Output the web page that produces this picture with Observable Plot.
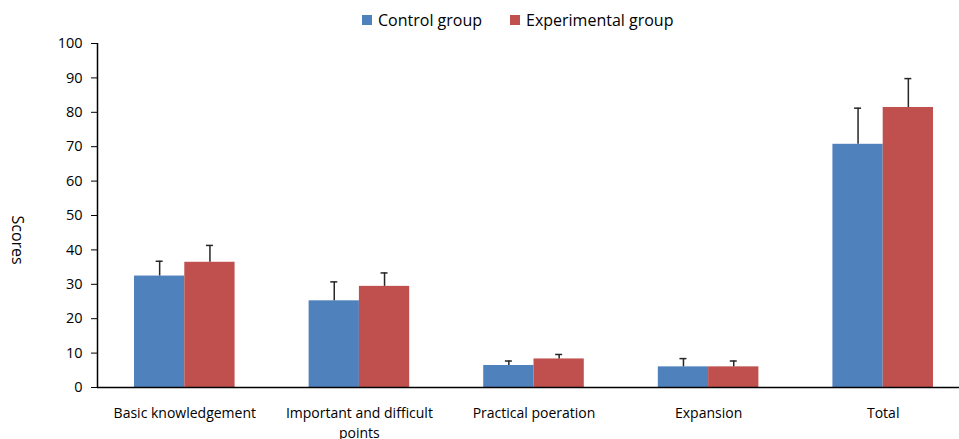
<!DOCTYPE html>
<html>
<head>
<meta charset="utf-8">
<script src="https://cdn.jsdelivr.net/npm/d3@7"></script>
<script src="https://cdn.jsdelivr.net/npm/@observablehq/plot@0.6"></script>
<style>
  html, body { margin: 0; padding: 0; background: #fff; overflow: hidden; }
  body { width: 959px; height: 439px; font-family: "Open Sans", sans-serif; }
  #legend { position: relative; height: 28px; }
  .item { position: absolute; top: 9px; display: flex; align-items: center; font-size: 16px; color: #000; white-space: nowrap; }
  .sw { width: 10px; height: 10px; margin-right: 6px; }
  #chart svg { overflow: visible; }
</style>
</head>
<body>
<div id="legend"></div>
<div id="chart"></div>
<script>
// ---- data ----
const categories = ["Basic knowledgement", "Important and difficult points", "Practical poeration", "Expansion", "Total"];
const tickLabels = ["Basic knowledgement", "Important and difficult\npoints", "Practical poeration", "Expansion", "Total"];
const groups = ["Control group", "Experimental group"];
const colors = ["#4F81BD", "#C0504D"];
const control = [32.4, 25.2, 6.4, 6.0, 70.7];
const controlErr = [4.3, 5.5, 1.3, 2.4, 10.5];
const experimental = [36.4, 29.4, 8.3, 6.0, 81.4];
const experimentalErr = [4.9, 3.9, 1.3, 1.7, 8.4];
const yTicks = d3.range(0, 101, 10);

// ---- layout constants ----
const W = 0.288;     // bar width as fraction of category step
const CAP = 0.02;    // half width of error cap in category units

const rows = categories.flatMap((c, i) => [
  {i, group: groups[0], value: control[i], err: controlErr[i], side: -1},
  {i, group: groups[1], value: experimental[i], err: experimentalErr[i], side: 1}
]);
const center = d => d.i + d.side * W / 2;

// legend
const legend = document.getElementById("legend");
const legendX = [362, 510];
groups.forEach((g, k) => {
  const it = document.createElement("div");
  it.className = "item";
  it.style.left = legendX[k] + "px";
  it.innerHTML = `<span class="sw" style="background:${colors[k]}"></span><span>${g}</span>`;
  legend.appendChild(it);
});

const chart = Plot.plot({
  width: 959,
  height: 411,
  marginLeft: 97,
  marginRight: -11,
  marginTop: 15,
  marginBottom: 52,
  style: {fontFamily: "Open Sans", fontSize: "14px", color: "#000", background: "#fff"},
  x: {domain: [-0.5, categories.length - 0.5]},
  y: {domain: [0, 100]},
  color: {domain: groups, range: colors},
  marks: [
    Plot.rectY(rows, {
      x1: d => d.i + (d.side < 0 ? -W : 0),
      x2: d => d.i + (d.side < 0 ? 0 : W),
      y: "value",
      fill: "group"
    }),
    Plot.ruleX(rows, {x: center, y1: "value", y2: d => d.value + d.err, stroke: "#262626", strokeWidth: 1.5}),
    Plot.ruleY(rows, {y: d => d.value + d.err, x1: d => center(d) - CAP, x2: d => center(d) + CAP, stroke: "#262626", strokeWidth: 1.5}),
    Plot.ruleY([0], {stroke: "#000", strokeWidth: 1.5}),
    Plot.ruleX([-0.5], {y1: 0, y2: 100, stroke: "#000", strokeWidth: 1.5}),
    Plot.axisY({ticks: yTicks, tickSize: 6, tickPadding: 9, label: null, fontSize: 14.5, stroke: "#000", fill: "#000"}),
    Plot.axisX({ticks: d3.range(categories.length), tickSize: 0, tickPadding: 17, tickFormat: i => tickLabels[i], label: null, fontSize: 14, lineHeight: 1.4, fill: "#000"}),
    Plot.text(["Scores"], {frameAnchor: "left", rotate: 90, dx: -80, fontSize: 16, fill: "#000"})
  ]
});
document.getElementById("chart").appendChild(chart);
</script>
</body>
</html>
